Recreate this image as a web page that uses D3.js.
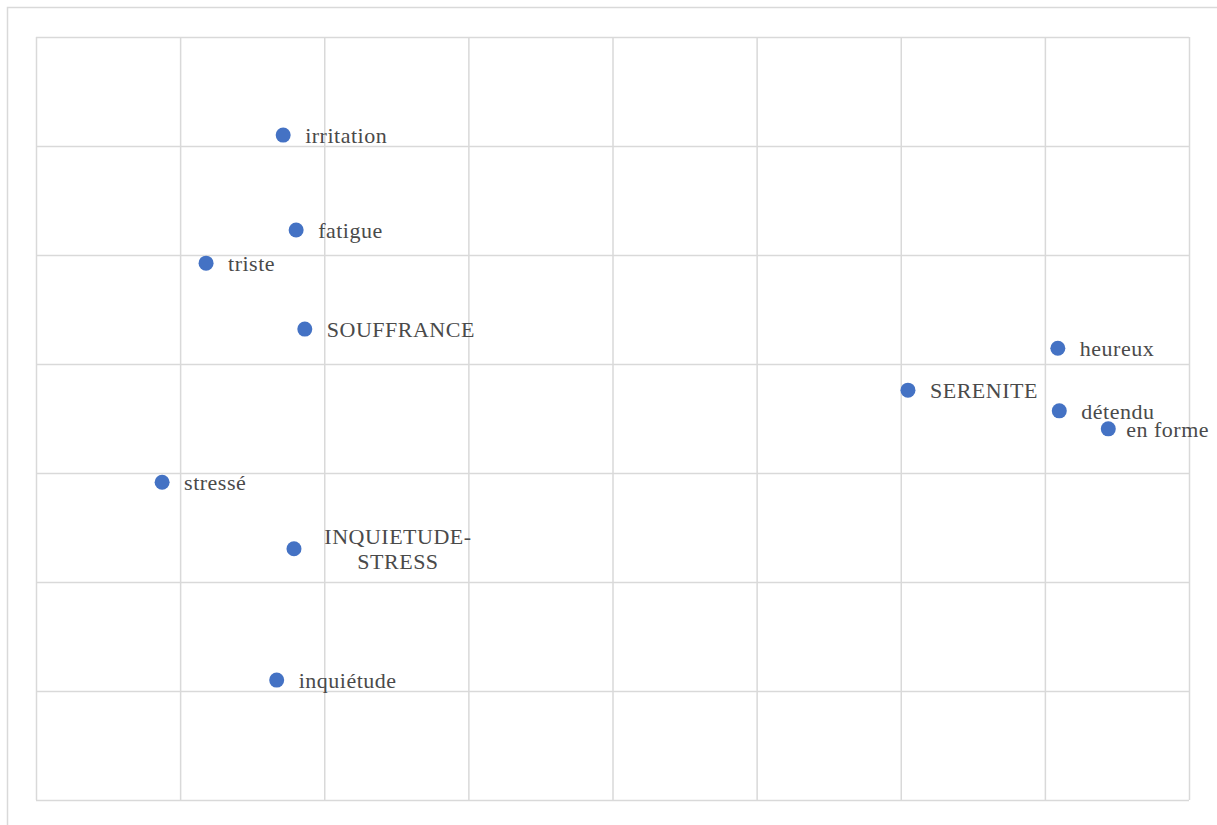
<!DOCTYPE html>
<html><head><meta charset="utf-8">
<script src="https://cdn.jsdelivr.net/npm/d3@7"></script>
<style>html,body{margin:0;padding:0;background:#fff;}svg{display:block;}
.lbl{font-family:"Liberation Serif","DejaVu Serif","Times New Roman",serif;letter-spacing:0.5px;}</style>
</head><body>
<svg id="chart" width="1217" height="825"></svg>
<script>
const labels = ["irritation","fatigue","triste","SOUFFRANCE","heureux","SERENITE","détendu","en forme","stressé","INQUIETUDE-STRESS","inquiétude"];
const xValues = [-0.457,-0.439,-0.564,-0.427,0.618,0.410,0.620,0.688,-0.625,-0.442,-0.466];
const yValues = [0.420,0.246,0.185,0.064,0.029,-0.048,-0.086,-0.119,-0.217,-0.339,-0.580];
const xTicks = [-0.8,-0.6,-0.4,-0.2,0,0.2,0.4,0.6,0.8];
const yTicks = [-0.8,-0.6,-0.4,-0.2,0,0.2,0.4,0.6];
const labelLines = {"INQUIETUDE-STRESS":["INQUIETUDE-","STRESS"]};
const labelShift = {"en forme": -4};

const svg = d3.select("#chart");
const W = 1217, H = 825;
const m = {left:36, top:37, right:1189, bottom:800};

svg.append("rect").attr("x",7.5).attr("y",7.5).attr("width",W).attr("height",H)
  .attr("fill","#fff").attr("stroke","#d9d9d9").attr("stroke-width",1.5);

const x = d3.scaleLinear().domain([xTicks[0], xTicks[xTicks.length-1]]).range([m.left, m.right]);
const y = d3.scaleLinear().domain([yTicks[0], yTicks[yTicks.length-1]]).range([m.bottom, m.top]);

const gx = svg.append("g").attr("transform",`translate(0,${m.bottom})`)
  .call(d3.axisBottom(x).tickValues(xTicks).tickSize(-(m.bottom-m.top)).tickFormat(""));
const gy = svg.append("g").attr("transform",`translate(${m.left},0)`)
  .call(d3.axisLeft(y).tickValues(yTicks).tickSize(-(m.right-m.left)).tickFormat(""));
[gx,gy].forEach(g=>{
  g.select(".domain").remove();
  g.selectAll(".tick line").attr("stroke","#d9d9d9").attr("stroke-width",1.5);
});

const data = labels.map((l,i)=>({label:l, x:xValues[i], y:yValues[i]}));

svg.append("g").selectAll("circle").data(data).join("circle")
  .attr("cx",d=>x(d.x)).attr("cy",d=>y(d.y)).attr("r",7.5).attr("fill","#4472c4");

const tg = svg.append("g").attr("class","lbl")
  .attr("font-size",22).attr("fill","#4a4a4a");
data.forEach(d=>{
  const lines = labelLines[d.label];
  if(lines){
    const cx = x(d.x) + 104, cy = y(d.y);
    const t = tg.append("text").attr("text-anchor","middle");
    lines.forEach((ln,j)=>{
      t.append("tspan").attr("x",cx).attr("y",cy + (j-(lines.length-1)/2)*25).attr("dy","0.35em").text(ln);
    });
  } else {
    tg.append("text").attr("x",x(d.x)+22+(labelShift[d.label]||0)).attr("y",y(d.y)).attr("dy","0.35em").text(d.label);
  }
});
</script>
</body></html>
